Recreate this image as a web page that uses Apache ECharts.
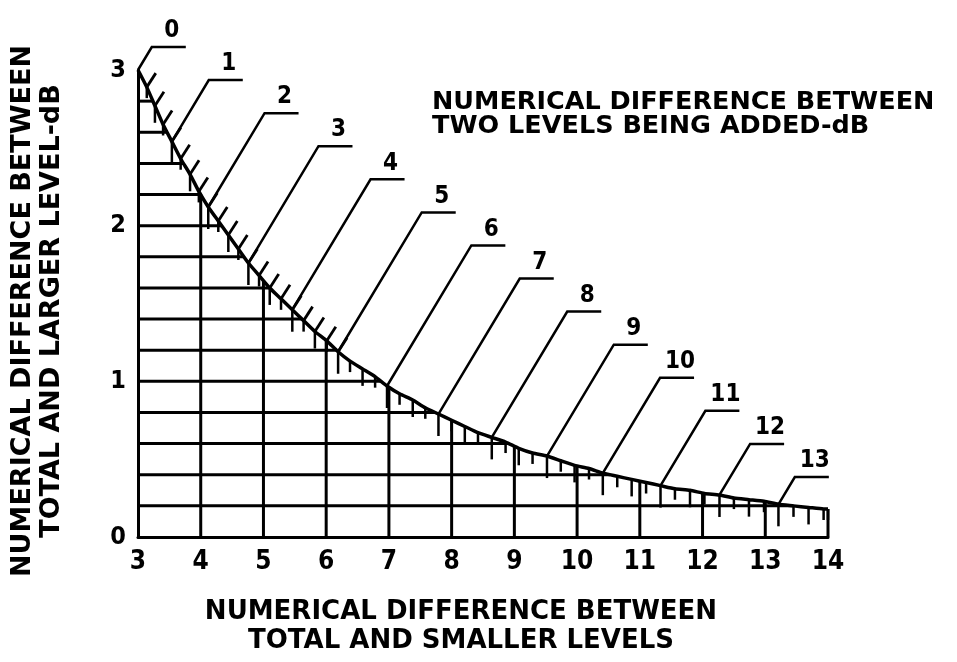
<!DOCTYPE html>
<html>
<head>
<meta charset="utf-8">
<script src="https://cdn.jsdelivr.net/npm/echarts@6/dist/echarts.min.js"></script>
<style>
  html, body { margin: 0; padding: 0; background: #fff; }
  #chart { width: 957px; height: 662px; }
</style>
</head>
<body>
<div id="chart"></div>
<script>
// difference between the two levels being added, dB (points along the curve)
var levelDiff = [0, 0.25, 0.5, 0.75, 1, 1.25, 1.5, 1.75, 2, 2.25, 2.5, 2.75, 3, 3.25, 3.5, 3.75,
  4, 4.25, 4.5, 4.75, 5, 5.25, 5.5, 5.75, 6, 6.25, 6.5, 6.75, 7, 7.25, 7.5, 7.75, 8, 8.25, 8.5, 8.75,
  9, 9.25, 9.5, 9.75, 10, 10.25, 10.5, 10.75, 11, 11.25, 11.5, 11.75, 12, 12.25, 12.5, 12.75,
  13, 13.25, 13.5, 13.75, 13.82];
// total minus smaller level (x)
var smallerDiff = [3.00, 3.14, 3.27, 3.40, 3.54, 3.68, 3.83, 3.97, 4.12, 4.28, 4.44, 4.60, 4.76, 4.93,
  5.10, 5.28, 5.46, 5.64, 5.82, 6.01, 6.19, 6.38, 6.58, 6.78, 6.97, 7.17, 7.38, 7.58, 7.79, 8.00,
  8.21, 8.42, 8.64, 8.86, 9.07, 9.29, 9.52, 9.74, 9.96, 10.19, 10.41, 10.64, 10.87, 11.10, 11.33,
  11.56, 11.80, 12.03, 12.27, 12.50, 12.74, 12.98, 13.21, 13.45, 13.69, 13.93, 14.00];
// total minus larger level (y)
var largerDiff = [3.00, 2.89, 2.77, 2.65, 2.54, 2.43, 2.33, 2.22, 2.12, 2.03, 1.94, 1.85, 1.76, 1.68,
  1.60, 1.53, 1.46, 1.39, 1.32, 1.26, 1.19, 1.13, 1.08, 1.03, 0.97, 0.92, 0.88, 0.83, 0.79, 0.75,
  0.71, 0.67, 0.64, 0.61, 0.57, 0.54, 0.52, 0.49, 0.46, 0.44, 0.41, 0.39, 0.37, 0.35, 0.33,
  0.31, 0.30, 0.28, 0.27, 0.25, 0.24, 0.23, 0.21, 0.20, 0.19, 0.18, 0.18];

var calloutLabels = ['0', '1', '2', '3', '4', '5', '6', '7', '8', '9', '10', '11', '12', '13'];
var gridRows = [0.2, 0.4, 0.6, 0.8, 1.0, 1.2, 1.4, 1.6, 1.8, 2.0, 2.2, 2.4, 2.6, 2.8];
var gridCols = [4, 5, 6, 7, 8, 9, 10, 11, 12, 13, 14];

var numFamily = '"DejaVu Sans Condensed", "DejaVu Sans"';
var numFont = 'bold 24px ' + numFamily;

var chart = echarts.init(document.getElementById('chart'));

// where the curve crosses a given y / x (linear between read points)
function xAtY(v) {
  for (var i = 0; i < largerDiff.length - 1; i++) {
    var a = largerDiff[i], b = largerDiff[i + 1];
    if ((a - v) * (b - v) <= 0 && a !== b) {
      return smallerDiff[i] + (v - a) / (b - a) * (smallerDiff[i + 1] - smallerDiff[i]);
    }
  }
  return smallerDiff[0];
}
function yAtX(x) {
  for (var i = 0; i < smallerDiff.length - 1; i++) {
    var a = smallerDiff[i], b = smallerDiff[i + 1];
    if (x >= a && x <= b) {
      return largerDiff[i] + (x - a) / (b - a) * (largerDiff[i + 1] - largerDiff[i]);
    }
  }
  return largerDiff[largerDiff.length - 1];
}

var black = '#000';

var curveData = smallerDiff.map(function (x, i) { return [x, largerDiff[i]]; });
var hatchData = smallerDiff.map(function (x, i) { return [x, largerDiff[i], levelDiff[i]]; });
var calloutData = calloutLabels.map(function (t, k) {
  var idx = levelDiff.indexOf(k);
  return [smallerDiff[idx], largerDiff[idx], k];
});

var option = {
  animation: false,
  backgroundColor: '#fff',
  grid: { left: 138, right: 129, top: 70, bottom: 125 },
  xAxis: {
    type: 'value', min: 3, max: 14, interval: 1,
    axisLine: { show: true, onZero: false, lineStyle: { color: black, width: 3 } },
    axisTick: { show: false },
    splitLine: { show: false },
    axisLabel: { color: black, margin: 12, fontSize: 26, fontWeight: 'bold', fontFamily: numFamily }
  },
  yAxis: {
    type: 'value', min: 0, max: 3, interval: 1,
    axisLine: { show: true, onZero: false, lineStyle: { color: black, width: 3 } },
    axisTick: { show: false },
    splitLine: { show: false },
    axisLabel: { color: black, margin: 12, fontSize: 25, fontWeight: 'bold', fontFamily: numFamily }
  },
  graphic: [
    { type: 'text', x: 432, y: 90,
      style: { text: 'NUMERICAL DIFFERENCE BETWEEN\nTWO LEVELS BEING ADDED-dB',
        font: 'bold 25.5px "DejaVu Sans"', fill: black, lineHeight: 24 } },
    { type: 'text', x: 461, y: 627,
      style: { text: 'NUMERICAL DIFFERENCE BETWEEN\nTOTAL AND SMALLER LEVELS',
        font: 'bold 26px "DejaVu Sans"', fill: black, lineHeight: 29,
        align: 'center', verticalAlign: 'middle', textAlign: 'center', textVerticalAlign: 'middle' } },
    { type: 'text', x: 37, y: 311, rotation: Math.PI / 2,
      style: { text: 'NUMERICAL DIFFERENCE BETWEEN\nTOTAL AND LARGER LEVEL-dB',
        font: 'bold 27px "DejaVu Sans"', fill: black, lineHeight: 29,
        align: 'center', verticalAlign: 'middle', textAlign: 'center', textVerticalAlign: 'middle' } }
  ],
  series: [
    {
      // horizontal rulings, stopped at the curve
      type: 'custom', clip: false, silent: true,
      data: gridRows.map(function (v) { return [3, v]; }),
      renderItem: function (params, api) {
        var v = api.value(1);
        var p1 = api.coord([3, v]);
        var p2 = api.coord([xAtY(v), v]);
        return { type: 'line', shape: { x1: p1[0], y1: p1[1], x2: p2[0], y2: p2[1] },
          style: { stroke: black, lineWidth: 3 } };
      }
    },
    {
      // vertical rulings, stopped at the curve
      type: 'custom', clip: false, silent: true,
      data: gridCols.map(function (c) { return [c, 0]; }),
      renderItem: function (params, api) {
        var c = api.value(0);
        var p1 = api.coord([c, 0]);
        var p2 = api.coord([c, yAtX(c)]);
        return { type: 'line', shape: { x1: p1[0], y1: p1[1], x2: p2[0], y2: p2[1] },
          style: { stroke: black, lineWidth: 3 } };
      }
    },
    {
      type: 'line', data: curveData, symbol: 'none', silent: true, smooth: 0.2,
      lineStyle: { color: black, width: 3.5 }
    },
    {
      // scale marks along the curve
      type: 'custom', clip: false, silent: true,
      data: hatchData,
      renderItem: function (params, api) {
        var d = api.value(2);
        if (d === 0) return null;
        var p = api.coord([api.value(0), api.value(1)]);
        var len = (d % 1 === 0) ? 22 : (d % 0.5 === 0 ? 17 : 11);
        var kids = [
          { type: 'line', shape: { x1: p[0], y1: p[1], x2: p[0], y2: p[1] + len },
            style: { stroke: black, lineWidth: 2.5 } }
        ];
        if (d <= 5) {
          kids.push({ type: 'line', shape: { x1: p[0], y1: p[1], x2: p[0] + 9, y2: p[1] - 14 },
            style: { stroke: black, lineWidth: 2.8 } });
        }
        return { type: 'group', children: kids };
      }
    },
    {
      // numbered leaders
      type: 'custom', clip: false, silent: true,
      data: calloutData,
      renderItem: function (params, api) {
        var k = api.value(2);
        var p = api.coord([api.value(0), api.value(1)]);
        var top = api.coord([3, 3])[1], bot = api.coord([3, 0])[1];
        var cy = (top - 23) + k / 13 * ((bot - 60) - (top - 23));
        var cx = p[0] + (p[1] - cy) * 0.6;
        return {
          type: 'group',
          children: [
            { type: 'polyline', shape: { points: [[p[0], p[1]], [cx, cy], [cx + 34, cy]] },
              style: { stroke: black, lineWidth: 2.5, fill: null } },
            { type: 'text', x: cx + 20, y: cy - 4,
              style: { text: calloutLabels[k], font: numFont, fill: black,
                align: 'center', verticalAlign: 'bottom',
                textAlign: 'center', textVerticalAlign: 'bottom' } }
          ]
        };
      }
    }
  ]
};

chart.setOption(option);
window.addEventListener('resize', function () { chart.resize(); });
</script>
</body>
</html>
